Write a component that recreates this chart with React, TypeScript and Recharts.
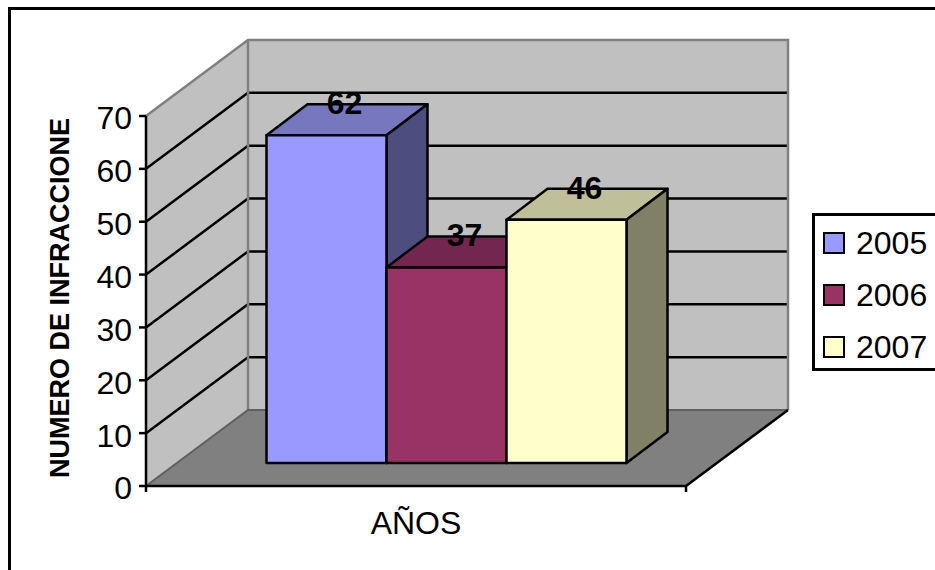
import React from "react";
import {
  BarChart,
  Bar,
  XAxis,
  YAxis,
  CartesianGrid,
  Label,
  LabelList,
  Legend,
  ReferenceArea,
} from "recharts";

const categories = ["AÑOS"];
const years = ["2005", "2006", "2007"];
const infractions = [62, 37, 46];
const yTicks = [0, 10, 20, 30, 40, 50, 60, 70];

const frontColors = ["#9999ff", "#993366", "#ffffcc"];
const topColors = ["#7777bf", "#732650", "#bfbf99"];
const sideColors = ["#4d4d80", "#4d1a33", "#808066"];

const FONT = "'Liberation Sans', Arial, sans-serif";

// perspective offsets of the fake 3D box
const WALL_DX = 102;
const WALL_DY = -76;
const BAR_SHIFT_X = 31;
const BAR_SHIFT_Y = -23;
const BAR_DX = 41;
const BAR_DY = -31;

const chartData = categories.map((name) => {
  const row: Record<string, string | number> = { name };
  years.forEach((year, i) => {
    row[year] = infractions[i];
  });
  return row;
});

function Walls({ x, y, width, height }: any) {
  const left = x;
  const right = x + width;
  const top = y;
  const bottom = y + height;
  const backLeft = left + WALL_DX;
  const backRight = right + WALL_DX;
  const backTop = top + WALL_DY;
  const backBottom = bottom + WALL_DY;

  return (
    <g>
      <polygon
        points={`${left},${top} ${backLeft},${backTop} ${backLeft},${backBottom} ${left},${bottom}`}
        fill="#c0c0c0"
      />
      <rect
        x={backLeft}
        y={backTop}
        width={width}
        height={height}
        fill="#c0c0c0"
      />
      <polygon
        points={`${left},${bottom} ${right},${bottom} ${backRight},${backBottom} ${backLeft},${backBottom}`}
        fill="#808080"
      />
    </g>
  );
}

function WallEdges({ x, y, width, height }: any) {
  const left = x;
  const right = x + width;
  const top = y;
  const bottom = y + height;
  const backLeft = left + WALL_DX;
  const backRight = right + WALL_DX;
  const backTop = top + WALL_DY;
  const backBottom = bottom + WALL_DY;

  return (
    <g fill="none">
      <polyline
        points={`${left},${top} ${backLeft},${backTop} ${backRight},${backTop} ${backRight},${backBottom}`}
        stroke="#808080"
        strokeWidth={2.5}
      />
      <line
        x1={backLeft}
        y1={backTop}
        x2={backLeft}
        y2={backBottom}
        stroke="#808080"
        strokeWidth={2.5}
      />
      <polyline
        points={`${left},${bottom} ${backLeft},${backBottom} ${backRight},${backBottom}`}
        stroke="#5f5f5f"
        strokeWidth={2}
      />
      <polyline
        points={`${backRight},${backBottom} ${right},${bottom} ${left},${bottom}`}
        stroke="#000"
        strokeWidth={2.5}
      />
      <line x1={left} y1={bottom} x2={left} y2={bottom + 6} stroke="#000" strokeWidth={2.5} />
      <line x1={right} y1={bottom} x2={right} y2={bottom + 6} stroke="#000" strokeWidth={2.5} />
    </g>
  );
}

// one line across the side wall and the back wall
function WallGridLine({ x1, y1, x2, y2 }: any) {
  const isEdge = y1 <= 116.5 || y1 >= 485.5;
  if (isEdge) return <g />;
  return (
    <polyline
      points={`${x1},${y1} ${x1 + WALL_DX},${y1 + WALL_DY} ${x2 + WALL_DX},${y2 + WALL_DY}`}
      fill="none"
      stroke="#000"
      strokeWidth={2.5}
    />
  );
}

function makeBox(index: number) {
  return function Box({ x, y, width, height }: any) {
    const fx = x + BAR_SHIFT_X;
    const fy = y + BAR_SHIFT_Y;
    const fr = fx + width;
    const fb = fy + height;
    return (
      <g stroke="#000" strokeWidth={2.5} strokeLinejoin="round">
        <polygon
          points={`${fx},${fy} ${fx + BAR_DX},${fy + BAR_DY} ${fr + BAR_DX},${fy + BAR_DY} ${fr},${fy}`}
          fill={topColors[index]}
        />
        <polygon
          points={`${fr},${fy} ${fr + BAR_DX},${fy + BAR_DY} ${fr + BAR_DX},${fb + BAR_DY} ${fr},${fb}`}
          fill={sideColors[index]}
        />
        <rect x={fx} y={fy} width={width} height={height} fill={frontColors[index]} />
      </g>
    );
  };
}

function BoxLabel({ x, y, width, value }: any) {
  return (
    <text
      x={x + width / 2 + BAR_SHIFT_X + 18}
      y={y + BAR_SHIFT_Y - 21}
      textAnchor="middle"
      fontFamily={FONT}
      fontSize={32}
      fontWeight="bold"
      fill="#000"
    >
      {value}
    </text>
  );
}

function YearLegend({ payload }: any) {
  return (
    <div
      style={{
        boxSizing: "border-box",
        width: 140,
        height: 158,
        border: "3px solid #000",
        background: "#fff",
        fontFamily: FONT,
        fontSize: 32,
        lineHeight: "32px",
        color: "#000",
      }}
    >
      {(payload || []).map((item: any, i: number) => (
        <div
          key={item.value}
          style={{
            position: "absolute",
            left: 11,
            top: 14 + i * 52,
            display: "flex",
            alignItems: "center",
          }}
        >
          <span
            style={{
              boxSizing: "border-box",
              width: 22,
              height: 22,
              border: "2px solid #000",
              background: item.color,
              marginRight: 11,
            }}
          />
          {item.value}
        </div>
      ))}
    </div>
  );
}

function AxisTitle() {
  const cx = 60;
  const cy = 298;
  return (
    <text
      x={cx}
      y={cy}
      transform={`rotate(-90 ${cx} ${cy})`}
      textAnchor="middle"
      dominantBaseline="central"
      fontFamily={FONT}
      fontSize={27}
      fontWeight="bold"
      fill="#000"
    >
      NUMERO DE INFRACCIONE
    </text>
  );
}

export default function App() {
  return (
    <div
      style={{
        position: "absolute",
        left: 0,
        top: 0,
        width: 935,
        height: 570,
        overflow: "hidden",
        background: "#fff",
      }}
    >
      <div
        style={{
          position: "absolute",
          left: 8,
          top: 7,
          width: 940,
          height: 600,
          borderLeft: "3px solid #000",
          borderTop: "3px solid #000",
        }}
      />
      <BarChart
        width={935}
        height={570}
        data={chartData}
        margin={{ top: 116, right: 249, bottom: 34, left: 86 }}
        barCategoryGap={89.5}
        barGap={0}
      >
        <ReferenceArea y1={0} y2={70} shape={Walls} zIndex={-200} />
        <CartesianGrid vertical={false} horizontal={WallGridLine} />
        <ReferenceArea y1={0} y2={70} shape={WallEdges} />
        <XAxis
          dataKey="name"
          axisLine={false}
          tickLine={false}
          height={50}
          tickMargin={19}
          tick={{ fontFamily: FONT, fontSize: 32, fill: "#000" }}
        />
        <YAxis
          type="number"
          width={60}
          domain={[0, 70]}
          ticks={yTicks}
          interval={0}
          tickSize={7}
          tickMargin={7}
          axisLine={{ stroke: "#000", strokeWidth: 2.5 }}
          tickLine={{ stroke: "#000", strokeWidth: 2.5 }}
          tick={{ fontFamily: FONT, fontSize: 32, fill: "#000", dy: 2 }}
        >
          <Label content={AxisTitle} />
        </YAxis>
        <Legend
          layout="horizontal"
          align="center"
          verticalAlign="middle"
          content={YearLegend}
          wrapperStyle={{ left: 812, top: 213, width: 140, height: 158 }}
        />
        {years.map((year, i) => (
          <Bar
            key={year}
            dataKey={year}
            name={year}
            fill={frontColors[i]}
            shape={makeBox(i)}
            isAnimationActive={false}
          >
            <LabelList dataKey={year} content={BoxLabel} />
          </Bar>
        ))}
      </BarChart>
    </div>
  );
}
